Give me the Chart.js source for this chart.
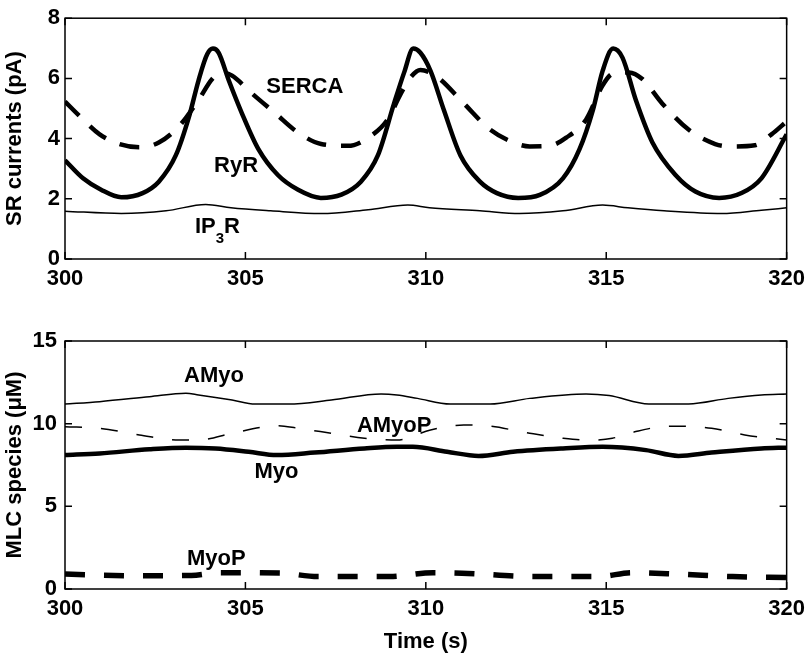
<!DOCTYPE html>
<html lang="en">
<head>
<meta charset="UTF-8">
<title>SR currents and MLC species</title>
<script src="https://cdn.jsdelivr.net/npm/chart.js@4.4.0/dist/chart.umd.min.js"></script>
<style>
  body { margin: 0; background: #fff; }
  canvas { display: block; }
</style>
</head>
<body>
<canvas id="top" width="812" height="300"></canvas>
<canvas id="bottom" width="812" height="356"></canvas>
<script>
// tick labels
const timeTicks = [300, 305, 310, 315, 320];
const srTicks = [0, 2, 4, 6, 8];
const mlcTicks = [0, 5, 10, 15];

// top panel - SR currents (pA)
const ryrT = [300, 300.5, 301, 301.56, 302.15, 302.6, 303.07, 303.44, 303.7, 303.94, 304.1, 304.26, 304.54, 304.9, 305.36, 305.9, 306.46, 307.09, 307.66, 308.2, 308.67, 309.12, 309.4, 309.65, 309.85, 310.13, 310.5, 310.96, 311.5, 311.97, 312.56, 313.16, 313.8, 314.26, 314.63, 314.9, 315.19, 315.45, 315.82, 316.28, 316.92, 317.47, 318.13, 318.75, 319.3, 320];
const ryrV = [3.28, 2.68, 2.3, 2.05, 2.19, 2.57, 3.44, 4.74, 5.93, 6.8, 6.99, 6.85, 5.93, 4.85, 3.65, 2.79, 2.3, 2.03, 2.14, 2.57, 3.44, 5.17, 6.2, 6.99, 6.85, 6.25, 4.95, 3.44, 2.57, 2.19, 2.03, 2.13, 2.68, 3.65, 4.95, 6.25, 6.99, 6.69, 5.28, 3.87, 2.79, 2.24, 2.03, 2.19, 2.68, 4.14];

const sercaT = [300, 300.41, 300.96, 301.5, 302.06, 302.6, 303.16, 303.7, 304.08, 304.35, 304.63, 305.18, 305.82, 306.46, 307.1, 307.84, 308.48, 308.94, 309.31, 309.58, 309.85, 310.32, 311.05, 311.78, 312.43, 312.88, 313.43, 313.89, 314.44, 314.9, 315.17, 315.63, 316.0, 316.55, 317.28, 318.02, 318.48, 319.12, 319.58, 320];
const sercaV = [5.23, 4.74, 4.14, 3.82, 3.71, 3.87, 4.41, 5.28, 5.98, 6.2, 6.09, 5.5, 4.85, 4.2, 3.82, 3.76, 4.09, 4.63, 5.5, 6.04, 6.28, 6.04, 5.17, 4.3, 3.87, 3.74, 3.76, 4.03, 4.63, 5.77, 6.15, 6.2, 5.98, 5.17, 4.3, 3.82, 3.74, 3.78, 4.14, 4.57];

const ip3rT = [300, 301.56, 302.8, 303.9, 304.6, 305.7, 307.1, 308.4, 309.5, 310.1, 311.5, 312.6, 313.8, 314.9, 315.6, 316.6, 318.2, 319.3, 320];
const ip3rV = [1.59, 1.51, 1.6, 1.81, 1.7, 1.6, 1.51, 1.64, 1.79, 1.7, 1.6, 1.51, 1.6, 1.79, 1.7, 1.6, 1.51, 1.62, 1.7];

// bottom panel - MLC species (uM)
const amyoT = [300, 300.96, 302.34, 303.35, 303.7, 304.63, 305.27, 306.19, 307.38, 308.76, 309.2, 309.77, 310.68, 311.78, 312.88, 314.44, 315.08, 316.18, 317.28, 318.38, 319.3, 320];
const amyoV = [11.19, 11.33, 11.63, 11.84, 11.74, 11.43, 11.19, 11.19, 11.43, 11.8, 11.74, 11.53, 11.19, 11.19, 11.53, 11.8, 11.7, 11.19, 11.19, 11.53, 11.74, 11.8];

const amyopT = [300, 300.96, 302.06, 303.16, 303.7, 304.63, 305.55, 305.92, 306.46, 307.38, 308.3, 309.2, 310.13, 311.05, 311.78, 312.88, 313.8, 314.53, 315.17, 315.82, 316.55, 317.1, 317.92, 318.84, 320];
const amyopV = [9.82, 9.72, 9.32, 9.01, 9.01, 9.42, 9.82, 9.88, 9.72, 9.42, 9.12, 9.01, 9.62, 9.92, 9.85, 9.42, 9.12, 9.0, 9.12, 9.52, 9.82, 9.85, 9.72, 9.32, 9.01];

const myoT = [300, 300.96, 302.34, 303.35, 304.17, 305.09, 305.87, 306.92, 308.3, 309.2, 309.64, 310.59, 311.46, 312.42, 313.8, 314.9, 316.1, 317.0, 317.92, 319.3, 320];
const myoV = [8.1, 8.2, 8.45, 8.55, 8.5, 8.3, 8.1, 8.25, 8.5, 8.6, 8.6, 8.3, 8.05, 8.3, 8.5, 8.6, 8.4, 8.05, 8.25, 8.5, 8.55];

const myopT = [300, 302, 303.5, 304.3, 306, 307, 309, 310.2, 311, 313, 314.8, 315.7, 317, 318.5, 320];
const myopV = [0.9, 0.8, 0.82, 0.99, 0.96, 0.75, 0.75, 0.99, 0.96, 0.75, 0.75, 0.99, 0.9, 0.75, 0.7];

const FONT = '"Liberation Sans", Arial, Helvetica, sans-serif';
Chart.defaults.font.family = FONT;
Chart.defaults.color = '#000';

// in-plot curve labels (left edge / baseline, in data units)
const topNotes = [
  { parts: [['SERCA', 0]], t: 305.58, v: 5.5 },
  { parts: [['RyR', 0]], t: 304.13, v: 2.89 },
  { parts: [['IP', 0], ['3', 1], ['R', 0]], t: 303.6, v: 0.88 }
];
const bottomNotes = [
  { parts: [['AMyo', 0]], t: 303.3, v: 12.55 },
  { parts: [['AMyoP', 0]], t: 308.09, v: 9.5 },
  { parts: [['Myo', 0]], t: 305.25, v: 6.71 },
  { parts: [['MyoP', 0]], t: 303.38, v: 1.45 }
];

const pts = (ts, vs) => ts.map((t, i) => ({ x: t, y: vs[i] }));

function line(label, ts, vs, width, dash) {
  return {
    label, data: pts(ts, vs),
    borderColor: '#000', borderWidth: width, borderDash: dash || [],
    borderCapStyle: 'butt', pointRadius: 0,
    cubicInterpolationMode: 'monotone', fill: false
  };
}

// box, inward ticks on all sides and the curve names
function frame(notes) {
  return {
    id: 'frame',
    afterDatasetsDraw(chart) {
      const { ctx, chartArea: a, scales: { x, y } } = chart;
      ctx.save();
      ctx.strokeStyle = '#000';
      ctx.lineWidth = 1.5;
      ctx.strokeRect(a.left, a.top, a.right - a.left, a.bottom - a.top);
      ctx.beginPath();
      x.ticks.forEach(tk => {
        const p = x.getPixelForValue(tk.value);
        ctx.moveTo(p, a.bottom); ctx.lineTo(p, a.bottom - 7);
        ctx.moveTo(p, a.top); ctx.lineTo(p, a.top + 7);
      });
      y.ticks.forEach(tk => {
        const p = y.getPixelForValue(tk.value);
        ctx.moveTo(a.left, p); ctx.lineTo(a.left + 7, p);
        ctx.moveTo(a.right, p); ctx.lineTo(a.right - 7, p);
      });
      ctx.stroke();
      ctx.fillStyle = '#000';
      ctx.textAlign = 'left';
      ctx.textBaseline = 'alphabetic';
      notes.forEach(n => {
        let px = x.getPixelForValue(n.t);
        const py = y.getPixelForValue(n.v);
        n.parts.forEach(([s, sub]) => {
          ctx.font = (sub ? 'bold 15px ' : 'bold 22px ') + FONT;
          ctx.fillText(s, px, sub ? py + 10 : py);
          px += ctx.measureText(s).width;
        });
      });
      ctx.restore();
    }
  };
}

function axes(yTicks, yMax, yTitle, xTitle, xHeight, yPad) {
  const tickFont = { size: 22, weight: 'bold' };
  return {
    x: {
      type: 'linear', min: 300, max: 320,
      afterBuildTicks: s => { s.ticks = timeTicks.map(v => ({ value: v })); },
      afterFit: s => { s.height = xHeight; },
      ticks: { font: tickFont, padding: 7, maxRotation: 0 },
      grid: { display: false, drawTicks: false },
      border: { display: false },
      title: { display: !!xTitle, text: xTitle, font: tickFont, padding: { bottom: 1 } }
    },
    y: {
      min: 0, max: yMax,
      afterBuildTicks: s => { s.ticks = yTicks.map(v => ({ value: v })); },
      afterFit: s => { s.width = 65; },
      ticks: { font: tickFont, padding: yPad },
      grid: { display: false, drawTicks: false },
      border: { display: false },
      title: { display: true, text: yTitle, font: tickFont, padding: { top: 2 } }
    }
  };
}

new Chart(document.getElementById('top'), {
  type: 'line',
  data: {
    datasets: [
      line('RyR', ryrT, ryrV, 4.5),
      line('SERCA', sercaT, sercaV, 4.5, [20, 15]),
      line('IP3R', ip3rT, ip3rV, 1.5)
    ]
  },
  options: {
    responsive: false, animation: false,
    layout: { padding: { top: 13, right: 20, left: 0, bottom: 0 } },
    plugins: { legend: { display: false }, tooltip: { enabled: false } },
    scales: axes(srTicks, 8, 'SR currents (pA)', '', 41, 5)
  },
  plugins: [frame(topNotes)]
});

new Chart(document.getElementById('bottom'), {
  type: 'line',
  data: {
    datasets: [
      line('AMyo', amyoT, amyoV, 1.5),
      line('AMyoP', amyopT, amyopV, 1.5, [17, 19]),
      line('Myo', myoT, myoV, 4.5),
      line('MyoP', myopT, myopV, 5.5, [20, 19])
    ]
  },
  options: {
    responsive: false, animation: false,
    layout: { padding: { top: 41, right: 20, left: 0, bottom: 0 } },
    plugins: { legend: { display: false }, tooltip: { enabled: false } },
    scales: axes(mlcTicks, 15, 'MLC species (μM)', 'Time (s)', 67, 8)
  },
  plugins: [frame(bottomNotes)]
});
</script>
</body>
</html>
